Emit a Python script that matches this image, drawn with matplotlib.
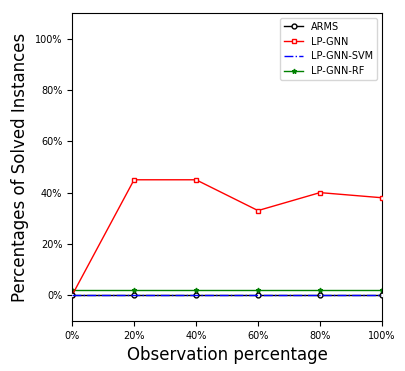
import numpy as np
import matplotlib
matplotlib.use('Agg')
import matplotlib.pyplot as plt
from matplotlib.ticker import FuncFormatter

obs = [0, 20, 40, 60, 80, 100]
arms = [0, 0, 0, 0, 0, 0]
lp_gnn = [0, 45, 45, 33, 40, 38]
lp_gnn_svm = [0, 0, 0, 0, 0, 0]
lp_gnn_rf = [2, 2, 2, 2, 2, 2]

fig = plt.figure(figsize=(4.05, 3.71), dpi=100)
ax = fig.add_axes([0.178, 0.135, 0.765, 0.83])

ax.plot(obs, lp_gnn_rf, '-*', color='green', lw=1, ms=3.5, label='LP-GNN-RF', zorder=2)
ax.plot(obs, lp_gnn, '-s', color='red', lw=1, ms=3.5, mfc='white', label='LP-GNN', zorder=3)
ax.plot(obs, arms, '-o', color='black', lw=1, ms=3.5, mfc='white', label='ARMS', zorder=4)
ax.plot(obs, lp_gnn_svm, '-.', color='blue', lw=1, label='LP-GNN-SVM', zorder=5)

handles, labels = ax.get_legend_handles_labels()
order = [2, 1, 3, 0]
ax.legend([handles[i] for i in order], [labels[i] for i in order], loc='upper right', fontsize=7)

ax.set_xlim(0, 100)
ax.set_ylim(-10, 110)
ax.set_xticks(obs)
ax.set_yticks([0, 20, 40, 60, 80, 100])
pct = FuncFormatter(lambda v, p: '%d%%' % v)
ax.xaxis.set_major_formatter(pct)
ax.yaxis.set_major_formatter(pct)
ax.tick_params(axis='both', labelsize=7)
ax.set_xlabel('Observation percentage', fontsize=12)
ax.set_ylabel('Percentages of Solved Instances', fontsize=12)

plt.savefig('out.png', dpi=100)
